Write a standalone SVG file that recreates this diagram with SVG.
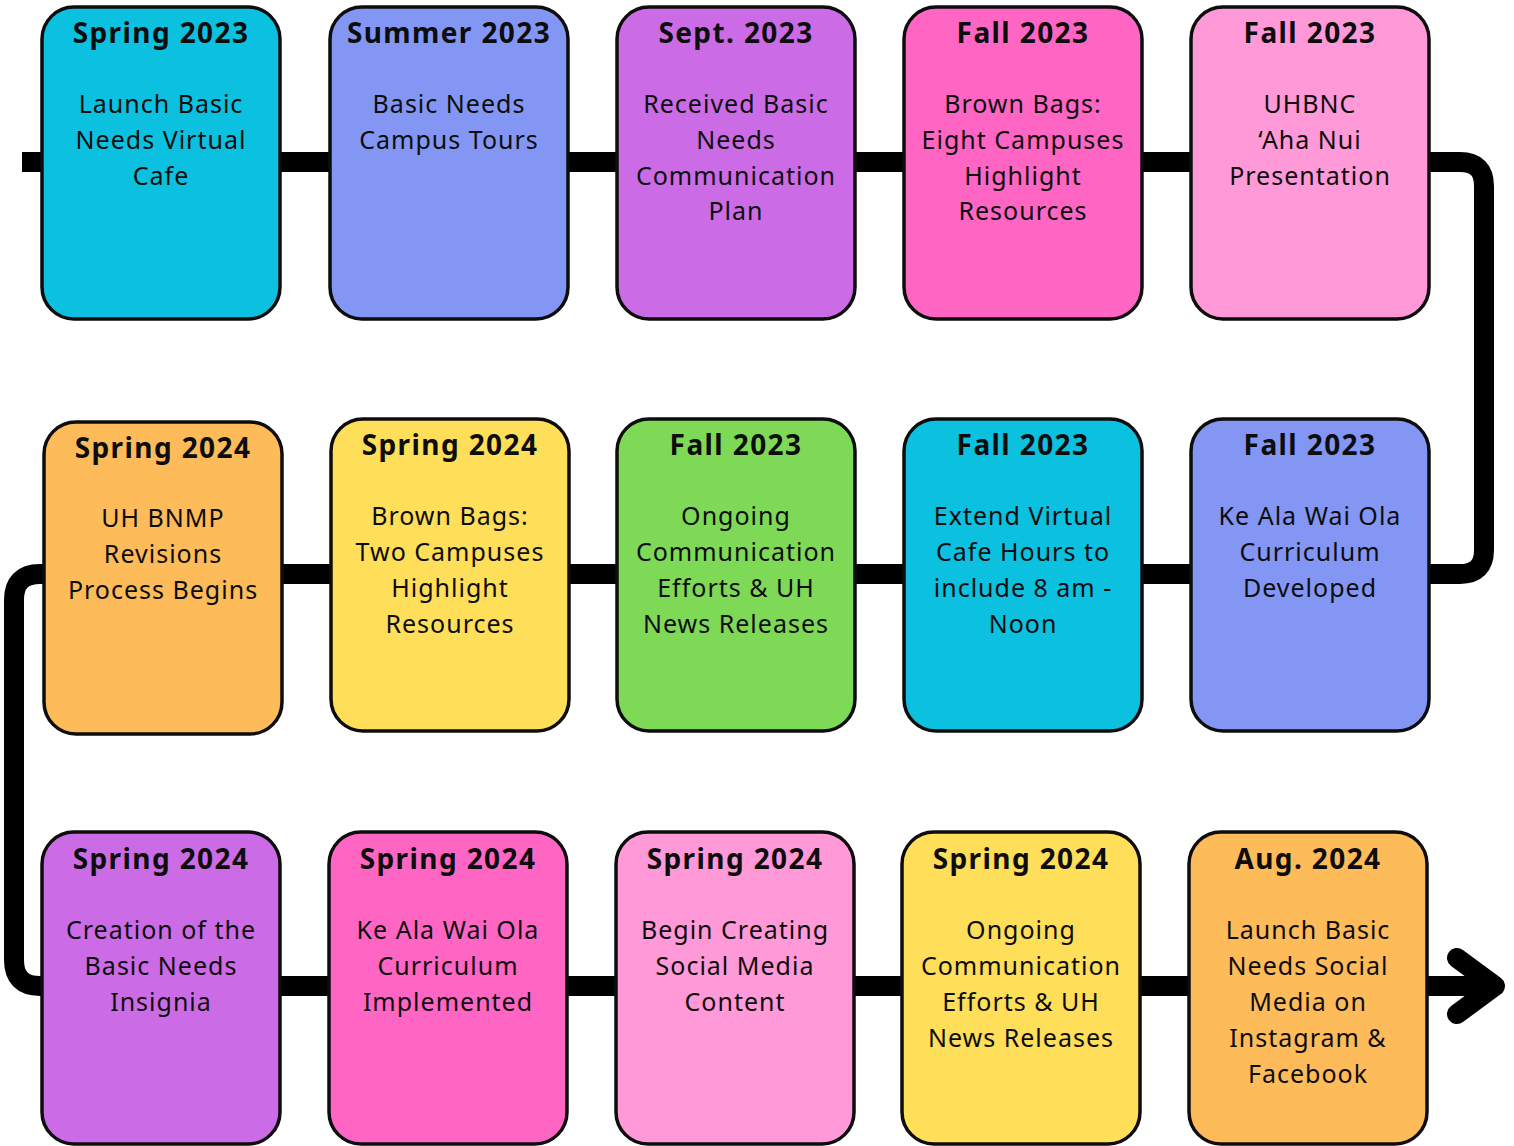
<svg xmlns="http://www.w3.org/2000/svg" width="1514" height="1146" viewBox="0 0 1514 1146">
<style>
.box{stroke:#0d0d0d;stroke-width:3.5}
.t{font-family:"Noto Sans","Open Sans",sans-serif;font-weight:700;font-size:28px;letter-spacing:1.4px;fill:#0d0d0d;text-anchor:middle}
.b{font-family:"Noto Sans","Open Sans",sans-serif;font-size:25px;letter-spacing:1px;fill:#0d0d0d;text-anchor:middle}
.ln{fill:none;stroke:#000;stroke-width:20}
</style>
<rect width="1514" height="1146" fill="#fff"/>
<g id="connectors">
<path class="ln" d="M22 162 H1460 Q1484 162 1484 186 V550 Q1484 574 1460 574 H40 Q14 574 14 600 V960 Q14 986 40 986 H1496"/>
<path class="ln" d="M1457 958 L1495 986 L1457 1014" stroke-linecap="round" stroke-linejoin="round"/>
</g>
<g id="n1"><rect class="box" x="42" y="7" width="238" height="312" rx="32" fill="#0CC0DF"/>
<text class="t" x="161" y="43">Spring 2023</text>
<text class="b" x="161" y="113">Launch Basic</text><text class="b" x="161" y="149">Needs Virtual</text><text class="b" x="161" y="185">Cafe</text></g>
<g id="n2"><rect class="box" x="330" y="7" width="238" height="312" rx="32" fill="#8396F3"/>
<text class="t" x="449" y="43">Summer 2023</text>
<text class="b" x="449" y="113">Basic Needs</text><text class="b" x="449" y="149">Campus Tours</text></g>
<g id="n3"><rect class="box" x="617" y="7" width="238" height="312" rx="32" fill="#CB6CE6"/>
<text class="t" x="736" y="43">Sept. 2023</text>
<text class="b" x="736" y="113">Received Basic</text><text class="b" x="736" y="149">Needs</text><text class="b" x="736" y="185">Communication</text><text class="b" x="736" y="220">Plan</text></g>
<g id="n4"><rect class="box" x="904" y="7" width="238" height="312" rx="32" fill="#FF66C4"/>
<text class="t" x="1023" y="43">Fall 2023</text>
<text class="b" x="1023" y="113">Brown Bags:</text><text class="b" x="1023" y="149">Eight Campuses</text><text class="b" x="1023" y="185">Highlight</text><text class="b" x="1023" y="220">Resources</text></g>
<g id="n5"><rect class="box" x="1191" y="7" width="238" height="312" rx="32" fill="#FF99D8"/>
<text class="t" x="1310" y="43">Fall 2023</text>
<text class="b" x="1310" y="113">UHBNC</text><text class="b" x="1310" y="149">‘Aha Nui</text><text class="b" x="1310" y="185">Presentation</text></g>

<g id="n6"><rect class="box" x="1191" y="419" width="238" height="312" rx="32" fill="#8396F3"/>
<text class="t" x="1310" y="455">Fall 2023</text>
<text class="b" x="1310" y="525">Ke Ala Wai Ola</text><text class="b" x="1310" y="561">Curriculum</text><text class="b" x="1310" y="597">Developed</text></g>
<g id="n7"><rect class="box" x="904" y="419" width="238" height="312" rx="32" fill="#0CC0DF"/>
<text class="t" x="1023" y="455">Fall 2023</text>
<text class="b" x="1023" y="525">Extend Virtual</text><text class="b" x="1023" y="561">Cafe Hours to</text><text class="b" x="1023" y="597">include 8 am -</text><text class="b" x="1023" y="633">Noon</text></g>
<g id="n8"><rect class="box" x="617" y="419" width="238" height="312" rx="32" fill="#7ED957"/>
<text class="t" x="736" y="455">Fall 2023</text>
<text class="b" x="736" y="525">Ongoing</text><text class="b" x="736" y="561">Communication</text><text class="b" x="736" y="597">Efforts &amp; UH</text><text class="b" x="736" y="633">News Releases</text></g>
<g id="n9"><rect class="box" x="331" y="419" width="238" height="312" rx="32" fill="#FFDE59"/>
<text class="t" x="450" y="455">Spring 2024</text>
<text class="b" x="450" y="525">Brown Bags:</text><text class="b" x="450" y="561">Two Campuses</text><text class="b" x="450" y="597">Highlight</text><text class="b" x="450" y="633">Resources</text></g>
<g id="n10"><rect class="box" x="44" y="422" width="238" height="312" rx="32" fill="#FDBB5A"/>
<text class="t" x="163" y="458">Spring 2024</text>
<text class="b" x="163" y="527">UH BNMP</text><text class="b" x="163" y="563">Revisions</text><text class="b" x="163" y="599">Process Begins</text></g>

<g id="n11"><rect class="box" x="42" y="832" width="238" height="312" rx="32" fill="#CB6CE6"/>
<text class="t" x="161" y="869">Spring 2024</text>
<text class="b" x="161" y="939">Creation of the</text><text class="b" x="161" y="975">Basic Needs</text><text class="b" x="161" y="1011">Insignia</text></g>
<g id="n12"><rect class="box" x="329" y="832" width="238" height="312" rx="32" fill="#FF66C4"/>
<text class="t" x="448" y="869">Spring 2024</text>
<text class="b" x="448" y="939">Ke Ala Wai Ola</text><text class="b" x="448" y="975">Curriculum</text><text class="b" x="448" y="1011">Implemented</text></g>
<g id="n13"><rect class="box" x="616" y="832" width="238" height="312" rx="32" fill="#FF99D8"/>
<text class="t" x="735" y="869">Spring 2024</text>
<text class="b" x="735" y="939">Begin Creating</text><text class="b" x="735" y="975">Social Media</text><text class="b" x="735" y="1011">Content</text></g>
<g id="n14"><rect class="box" x="902" y="832" width="238" height="312" rx="32" fill="#FFDE59"/>
<text class="t" x="1021" y="869">Spring 2024</text>
<text class="b" x="1021" y="939">Ongoing</text><text class="b" x="1021" y="975">Communication</text><text class="b" x="1021" y="1011">Efforts &amp; UH</text><text class="b" x="1021" y="1047">News Releases</text></g>
<g id="n15"><rect class="box" x="1189" y="832" width="238" height="312" rx="32" fill="#FDBB5A"/>
<text class="t" x="1308" y="869">Aug. 2024</text>
<text class="b" x="1308" y="939">Launch Basic</text><text class="b" x="1308" y="975">Needs Social</text><text class="b" x="1308" y="1011">Media on</text><text class="b" x="1308" y="1047">Instagram &amp;</text><text class="b" x="1308" y="1083">Facebook</text></g>
</svg>
